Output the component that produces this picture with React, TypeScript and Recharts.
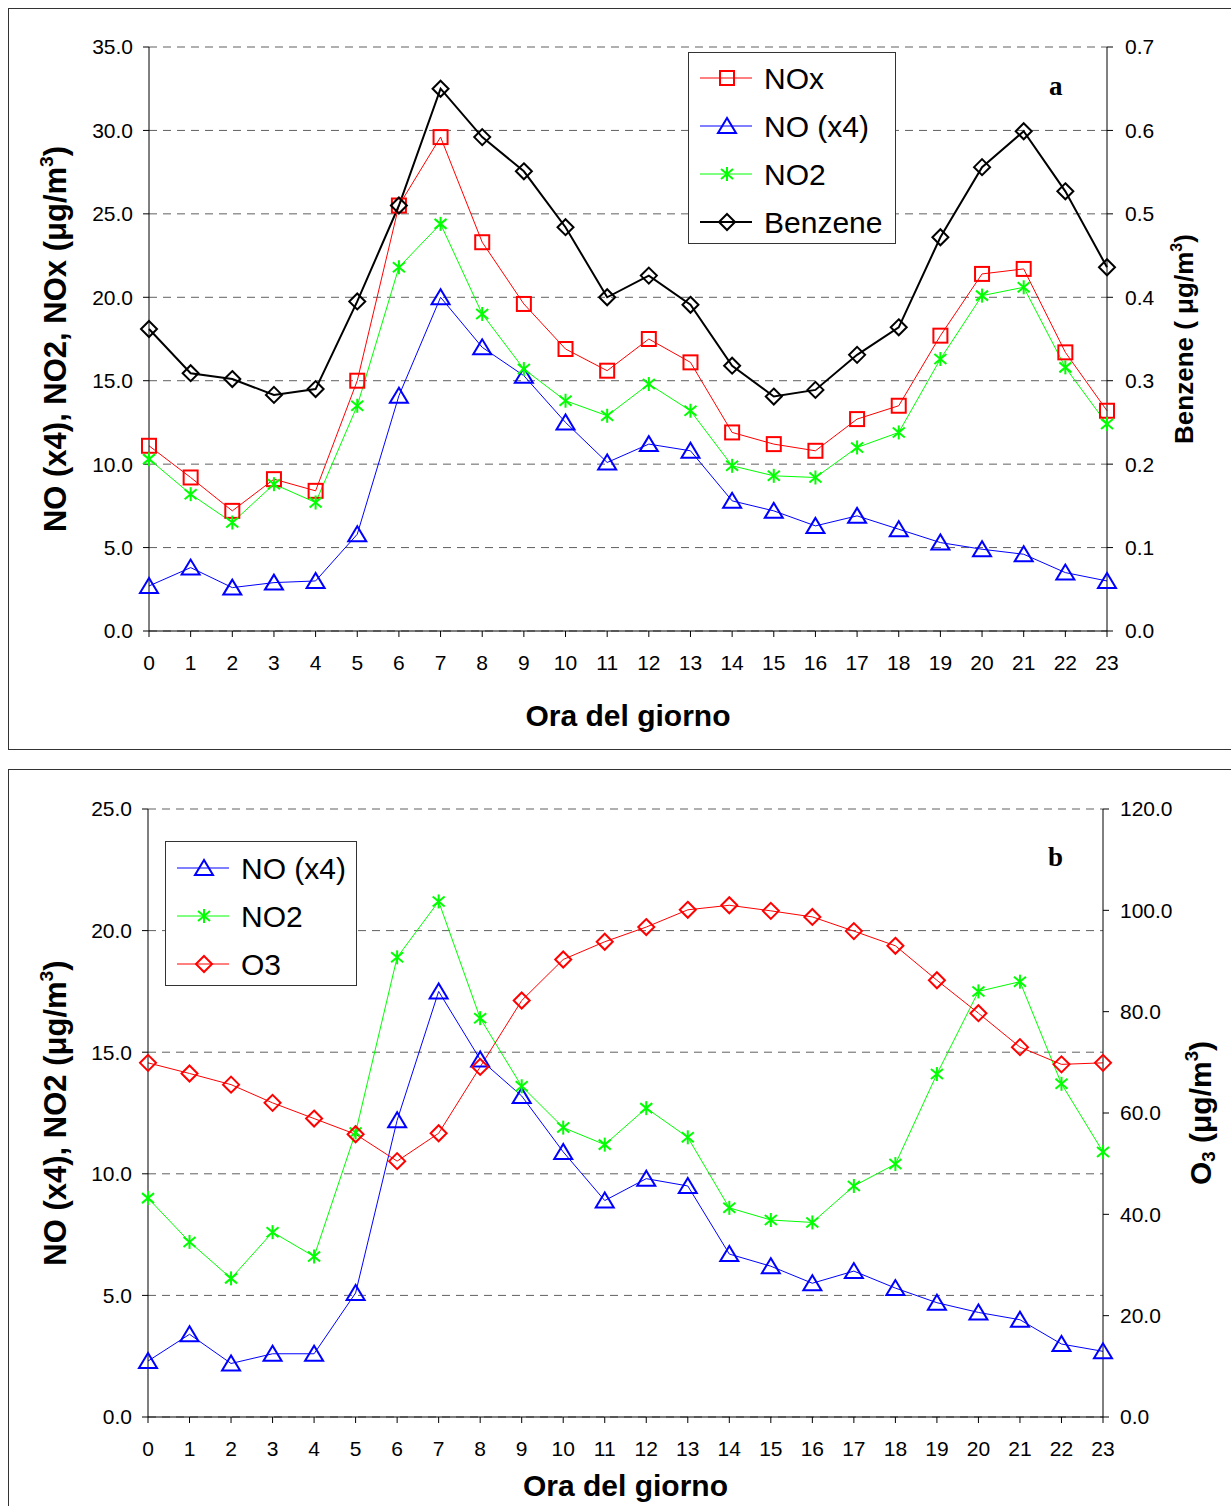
import React from 'react'
import { LineChart, Line, XAxis, YAxis, CartesianGrid, Legend, Label } from 'recharts'

// hours of the day (x axis)
const hours = [0, 1, 2, 3, 4, 5, 6, 7, 8, 9, 10, 11, 12, 13, 14, 15, 16, 17, 18, 19, 20, 21, 22, 23]

// panel a
const noxA = [11.1, 9.2, 7.2, 9.1, 8.4, 15.0, 25.5, 29.6, 23.3, 19.6, 16.9, 15.6, 17.5, 16.1, 11.9, 11.2, 10.8, 12.7, 13.5, 17.7, 21.4, 21.7, 16.7, 13.2]
const noA = [2.7, 3.8, 2.6, 2.9, 3.0, 5.8, 14.1, 20.0, 17.0, 15.3, 12.5, 10.1, 11.2, 10.8, 7.8, 7.2, 6.3, 6.9, 6.1, 5.3, 4.9, 4.6, 3.5, 3.0]
const no2A = [10.3, 8.2, 6.5, 8.8, 7.7, 13.5, 21.8, 24.4, 19.0, 15.7, 13.8, 12.9, 14.8, 13.2, 9.9, 9.3, 9.2, 11.0, 11.9, 16.3, 20.1, 20.6, 15.8, 12.4]
const benzeneA = [0.362, 0.309, 0.302, 0.283, 0.29, 0.395, 0.51, 0.65, 0.592, 0.551, 0.484, 0.4, 0.426, 0.391, 0.318, 0.281, 0.289, 0.331, 0.364, 0.472, 0.556, 0.599, 0.527, 0.436]

// panel b
const noB = [2.3, 3.4, 2.2, 2.6, 2.6, 5.1, 12.2, 17.5, 14.7, 13.2, 10.9, 8.9, 9.8, 9.5, 6.7, 6.2, 5.5, 6.0, 5.3, 4.7, 4.3, 4.0, 3.0, 2.7]
const no2B = [9.0, 7.2, 5.7, 7.6, 6.6, 11.7, 18.9, 21.2, 16.4, 13.6, 11.9, 11.2, 12.7, 11.5, 8.6, 8.1, 8.0, 9.5, 10.4, 14.1, 17.5, 17.9, 13.7, 10.9]
const o3B = [69.9, 67.8, 65.6, 62.0, 58.9, 55.8, 50.5, 56.0, 69.1, 82.2, 90.3, 93.8, 96.7, 100.1, 101.0, 99.9, 98.7, 95.9, 93.0, 86.2, 79.7, 73.0, 69.6, 69.9]

// axis ticks
const leftTicksA = [0, 5, 10, 15, 20, 25, 30, 35]
const rightTicksA = [0, 0.1, 0.2, 0.3, 0.4, 0.5, 0.6, 0.7]
const leftTicksB = [0, 5, 10, 15, 20, 25]
const rightTicksB = [0, 20, 40, 60, 80, 100, 120]

const FONT = 'Arial, "Liberation Sans", sans-serif'
const GRID = '#606060'

const dataA = hours.map((h, i) => ({ hour: h, nox: noxA[i], no: noA[i], no2: no2A[i], benzene: benzeneA[i] }))
const dataB = hours.map((h, i) => ({ hour: h, no: noB[i], no2: no2B[i], o3: o3B[i] }))

type Shape = 'square' | 'triangle' | 'star' | 'diamond'

function marker(shape: Shape, cx: number, cy: number, color: string, key?: string) {
  if (shape === 'square')
    return <rect key={key} x={cx - 7} y={cy - 7} width={14} height={14} fill="none" stroke={color} strokeWidth={2} />
  if (shape === 'triangle')
    return (
      <polygon key={key} points={`${cx},${cy - 8} ${cx - 9},${cy + 7} ${cx + 9},${cy + 7}`}
        fill="none" stroke={color} strokeWidth={2} />
    )
  if (shape === 'diamond')
    return (
      <polygon key={key} points={`${cx},${cy - 8} ${cx + 8},${cy} ${cx},${cy + 8} ${cx - 8},${cy}`}
        fill="none" stroke={color} strokeWidth={2} />
    )
  return (
    <g key={key} stroke={color} strokeWidth={2}>
      <line x1={cx} y1={cy - 7} x2={cx} y2={cy + 7} />
      <line x1={cx - 6} y1={cy - 5} x2={cx + 6} y2={cy + 5} />
      <line x1={cx - 6} y1={cy + 5} x2={cx + 6} y2={cy - 5} />
    </g>
  )
}

const dotFn = (shape: Shape, color: string) => (p: any) =>
  marker(shape, p.cx, p.cy, color, `${shape}-${p.index}`)

interface Item { name: string; color: string; shape: Shape; width: number }

const legendA: Item[] = [
  { name: 'NOx', color: '#FF0000', shape: 'square', width: 1 },
  { name: 'NO (x4)', color: '#0000FF', shape: 'triangle', width: 1 },
  { name: 'NO2', color: '#00FF00', shape: 'star', width: 1 },
  { name: 'Benzene', color: '#000000', shape: 'diamond', width: 2 },
]
const legendB: Item[] = [
  { name: 'NO (x4)', color: '#0000FF', shape: 'triangle', width: 1 },
  { name: 'NO2', color: '#00FF00', shape: 'star', width: 1 },
  { name: 'O3', color: '#FF0000', shape: 'diamond', width: 1 },
]

function LegendBox({ items, w, h, first }: { items: Item[]; w: number; h: number; first: number }) {
  return (
    <svg width={w} height={h} style={{ display: 'block' }}>
      <rect x={0.5} y={0.5} width={w - 1} height={h - 1} fill="#fff" stroke="#333" />
      {items.map((it, i) => {
        const cy = first + i * 48
        return (
          <g key={it.name}>
            <line x1={12} x2={64} y1={cy} y2={cy} stroke={it.color} strokeWidth={it.width} />
            {marker(it.shape, 39, cy, it.color)}
            <text x={76} y={cy} dy="0.35em" fontSize={30} fontFamily={FONT} fill="#000">{it.name}</text>
          </g>
        )
      })}
    </svg>
  )
}

// rotated axis title, parts: [text, 'sup' | 'sub' | undefined]
const vTitle = (parts: Array<[string, string?]>, dx: number, size: number) => (props: any) => {
  const vb = props.viewBox
  const x = vb.x + dx
  const y = vb.y + vb.height / 2
  return (
    <text x={x} y={y} dy="0.35em" textAnchor="middle" transform={`rotate(-90 ${x} ${y})`}
      fontFamily={FONT} fontWeight="bold" fontSize={size} fill="#000">
      {parts.map(([t, kind], i) => {
        const prev = i > 0 ? parts[i - 1][1] : undefined
        let dy = 0
        if (kind === 'sup') dy = -size * 0.42
        else if (kind === 'sub') dy = size * 0.12
        if (prev === 'sup') dy += size * 0.42
        if (prev === 'sub') dy -= size * 0.12
        return (
          <tspan key={i} dy={dy} fontSize={kind ? size * 0.62 : size}>{t}</tspan>
        )
      })}
    </text>
  )
}

const xTitle = (dy: number) => (props: any) => {
  const vb = props.viewBox
  return (
    <text x={vb.x + vb.width / 2} y={vb.y + dy} dy="0.35em" textAnchor="middle"
      fontFamily={FONT} fontWeight="bold" fontSize={30} fill="#000">Ora del giorno</text>
  )
}

const tickStyle = { fontSize: 21, fill: '#000', fontFamily: FONT }
const fmt1 = (v: number) => v.toFixed(1)

const boxStyle: React.CSSProperties = {
  position: 'absolute', left: 0, width: 1224, border: '1px solid #333',
  boxSizing: 'border-box', background: '#fff',
}
const letterStyle: React.CSSProperties = {
  position: 'absolute', fontFamily: '"Times New Roman", "Liberation Serif", serif',
  fontWeight: 'bold', fontSize: 27, lineHeight: '27px',
}

export default function App() {
  return (
    <div style={{ position: 'relative', width: 1223, height: 1498, overflow: 'hidden' }}>
      <style>{'html{overflow:hidden} body{width:1223px} #root{width:1223px;height:1498px}'}</style>

      {/* panel a */}
      <div style={{ ...boxStyle, top: 0, height: 742 }}>
        <LineChart width={1222} height={740} data={dataA} margin={{ top: 38, right: 0, left: 0, bottom: 0 }}>
          <CartesianGrid yAxisId="left" vertical={false} stroke={GRID} strokeDasharray="8 6" />
          <XAxis dataKey="hour" type="number" domain={[0, 23]} ticks={hours} interval={0} height={118}
            tick={tickStyle} tickMargin={18} stroke="#000">
            <Label content={xTitle(84)} />
          </XAxis>
          <YAxis yAxisId="left" domain={[0, 35]} ticks={leftTicksA} width={140} tick={tickStyle}
            tickFormatter={fmt1} tickMargin={10} stroke="#000">
            <Label content={vTitle([['NO (x4), NO2, NOx (μg/m'], ['3', 'sup'], [')']], 57, 31)} />
          </YAxis>
          <YAxis yAxisId="right" orientation="right" domain={[0, 0.7]} ticks={rightTicksA} width={124}
            tick={tickStyle} tickFormatter={fmt1} tickMargin={12} stroke="#000">
            <Label content={vTitle([['Benzene ( μg/m'], ['3', 'sup'], [')']], 86, 26)} />
          </YAxis>
          <Legend layout="vertical" align="center" verticalAlign="middle"
            wrapperStyle={{ left: 679, top: 43, width: 208, height: 192 }}
            content={() => <LegendBox items={legendA} w={208} h={192} first={26} />} />
          <Line yAxisId="left" dataKey="nox" stroke="#FF0000" strokeWidth={1} dot={dotFn('square', '#FF0000')}
            activeDot={false} isAnimationActive={false} />
          <Line yAxisId="left" dataKey="no" stroke="#0000FF" strokeWidth={1} dot={dotFn('triangle', '#0000FF')}
            activeDot={false} isAnimationActive={false} />
          <Line yAxisId="left" dataKey="no2" stroke="#00FF00" strokeWidth={1} dot={dotFn('star', '#00FF00')}
            activeDot={false} isAnimationActive={false} />
          <Line yAxisId="right" dataKey="benzene" stroke="#000000" strokeWidth={2} dot={dotFn('diamond', '#000000')}
            activeDot={false} isAnimationActive={false} />
        </LineChart>
        <span style={{ ...letterStyle, left: 1040, top: 64 }}>a</span>
      </div>

      {/* panel b */}
      <div style={{ ...boxStyle, top: 761, height: 760 }}>
        <LineChart width={1222} height={758} data={dataB} margin={{ top: 39, right: 0, left: 0, bottom: 0 }}>
          <CartesianGrid yAxisId="left" vertical={false} stroke={GRID} strokeDasharray="8 6" />
          <XAxis dataKey="hour" type="number" domain={[0, 23]} ticks={hours} interval={0} height={111}
            tick={tickStyle} tickMargin={18} stroke="#000">
            <Label content={xTitle(68)} />
          </XAxis>
          <YAxis yAxisId="left" domain={[0, 25]} ticks={leftTicksB} width={139} tick={tickStyle}
            tickFormatter={fmt1} tickMargin={10} stroke="#000">
            <Label content={vTitle([['NO (x4), NO2 (μg/m'], ['3', 'sup'], [')']], 57, 31)} />
          </YAxis>
          <YAxis yAxisId="right" orientation="right" domain={[0, 120]} ticks={rightTicksB} width={128}
            tick={tickStyle} tickFormatter={fmt1} tickMargin={11} stroke="#000">
            <Label content={vTitle([['O'], ['3', 'sub'], [' (μg/m'], ['3', 'sup'], [')']], 108, 30)} />
          </YAxis>
          <Legend layout="vertical" align="center" verticalAlign="middle"
            wrapperStyle={{ left: 156, top: 71, width: 192, height: 145 }}
            content={() => <LegendBox items={legendB} w={192} h={145} first={27} />} />
          <Line yAxisId="left" dataKey="no" stroke="#0000FF" strokeWidth={1} dot={dotFn('triangle', '#0000FF')}
            activeDot={false} isAnimationActive={false} />
          <Line yAxisId="left" dataKey="no2" stroke="#00FF00" strokeWidth={1} dot={dotFn('star', '#00FF00')}
            activeDot={false} isAnimationActive={false} />
          <Line yAxisId="right" dataKey="o3" stroke="#FF0000" strokeWidth={1} dot={dotFn('diamond', '#FF0000')}
            activeDot={false} isAnimationActive={false} />
        </LineChart>
        <span style={{ ...letterStyle, left: 1039, top: 74 }}>b</span>
      </div>
    </div>
  )
}
